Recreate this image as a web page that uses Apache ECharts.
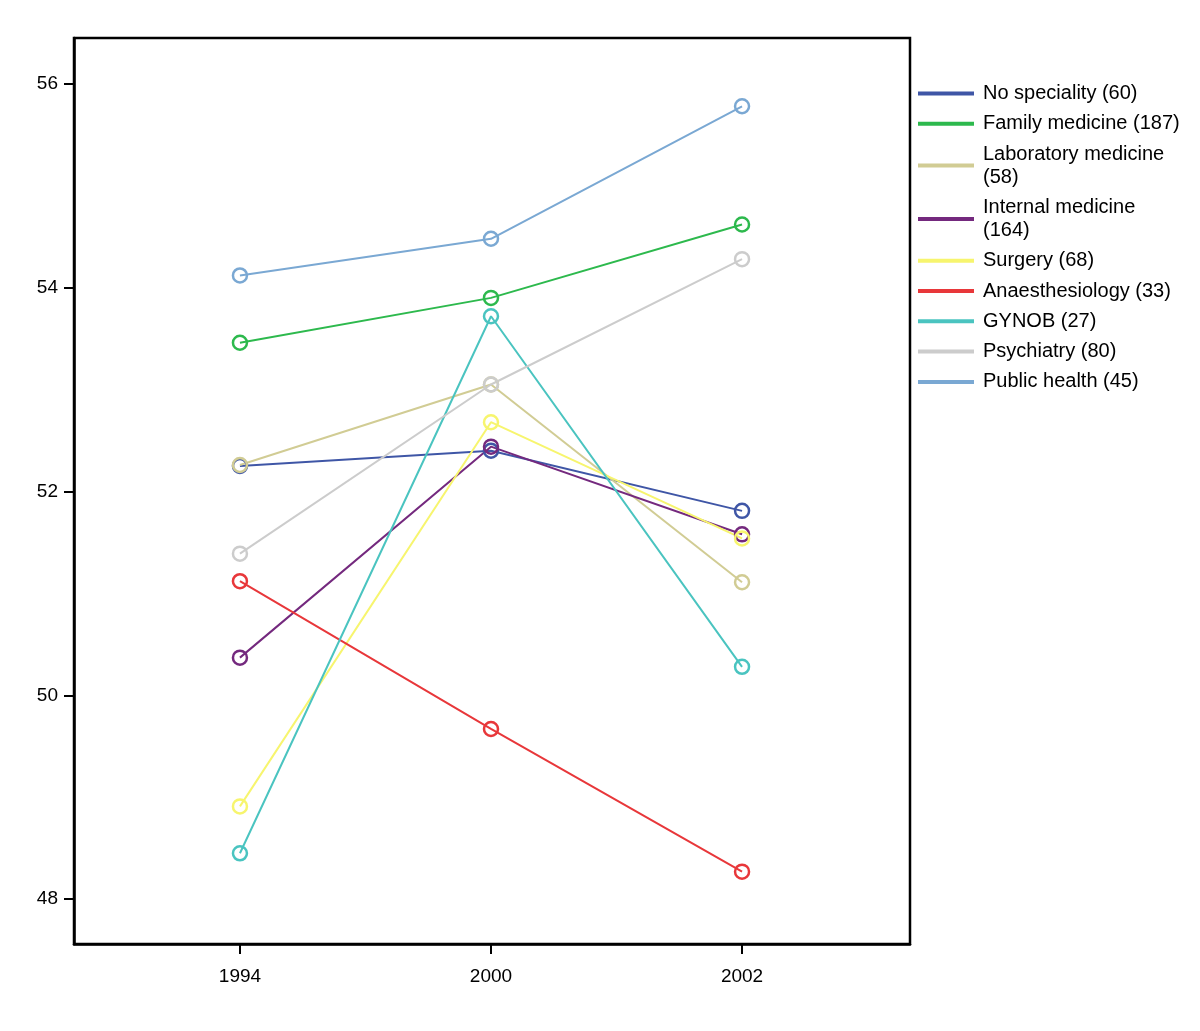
<!DOCTYPE html>
<html>
<head>
<meta charset="utf-8">
<script src="https://cdn.jsdelivr.net/npm/echarts@6/dist/echarts.min.js"></script>
<style>html,body{margin:0;padding:0;background:#fff;}#c{width:1200px;height:1031px;}</style>
</head>
<body>
<div id="c"></div>
<script>
const years = ['1994', '2000', '2002'];
const seriesNames = ['No speciality (60)', 'Family medicine (187)', 'Laboratory medicine (58)', 'Internal medicine (164)', 'Surgery (68)', 'Anaesthesiology (33)', 'GYNOB (27)', 'Psychiatry (80)', 'Public health (45)'];
const legendLabels = ['No speciality (60)', 'Family medicine (187)', 'Laboratory medicine\n(58)', 'Internal medicine\n(164)', 'Surgery (68)', 'Anaesthesiology (33)', 'GYNOB (27)', 'Psychiatry (80)', 'Public health (45)'];
const colors = ['#3F56A6', '#2DB94D', '#D1CC94', '#74297E', '#F7F56E', '#E8373A', '#4AC4C0', '#CCCCCC', '#7AA8D3'];
const noSpeciality = [52.25, 52.40, 51.81];
const familyMedicine = [53.46, 53.90, 54.62];
const laboratoryMedicine = [52.26, 53.05, 51.11];
const internalMedicine = [50.37, 52.44, 51.58];
const surgery = [48.91, 52.68, 51.54];
const anaesthesiology = [51.12, 49.67, 48.27];
const gynob = [48.45, 53.72, 50.28];
const psychiatry = [51.39, 53.05, 54.28];
const publicHealth = [54.12, 54.48, 55.78];
const yTicks = [48, 50, 52, 54, 56];

const allValues = [noSpeciality, familyMedicine, laboratoryMedicine, internalMedicine, surgery, anaesthesiology, gynob, psychiatry, publicHealth];

const chart = echarts.init(document.getElementById('c'));
const labelMap = {};
seriesNames.forEach((n, i) => labelMap[n] = legendLabels[i]);

const series = seriesNames.map((name, i) => ({
  name: name,
  type: 'line',
  data: allValues[i].map((v, j) => [j, v]),
  symbol: 'circle',
  symbolSize: 14,
  showSymbol: true,
  lineStyle: { color: colors[i], width: 2 },
  itemStyle: { color: 'rgba(255,255,255,0)', borderColor: colors[i], borderWidth: 2.5 },
  emphasis: { disabled: true },
  animation: false
}));

chart.setOption({
  backgroundColor: '#fff',
  animation: false,
  grid: {
    left: 74, right: 290, top: 38, bottom: 87,
    show: true, borderColor: '#000', borderWidth: 2.5, backgroundColor: 'transparent'
  },
  legend: {
    orient: 'vertical',
    left: 918,
    top: 82,
    padding: 0,
    itemGap: 7.3,
    itemWidth: 54,
    itemHeight: 2,
    icon: 'rect',
    selectedMode: false,
    data: seriesNames.map((n, i) => ({ name: n, itemStyle: { color: colors[i] } })),
    formatter: n => labelMap[n],
    textStyle: { fontFamily: 'Liberation Sans', fontSize: 20, color: '#000', lineHeight: 23, padding: [0, 0, 0, 5] }
  },
  xAxis: {
    type: 'value',
    min: -0.661,
    max: 2.669,
    axisLine: { show: true, onZero: false, lineStyle: { color: '#000', width: 2.5 } },
    axisTick: { show: true, length: 10, lineStyle: { color: '#000', width: 2 }, customValues: [0, 1, 2] },
    axisLabel: { customValues: [0, 1, 2], formatter: v => years[Math.round(v)], fontFamily: 'Liberation Sans', fontSize: 19, color: '#000', margin: 23 },
    splitLine: { show: false }
  },
  yAxis: {
    type: 'value',
    min: 47.56,
    max: 56.45,
    axisLine: { show: true, onZero: false, lineStyle: { color: '#000', width: 2.5 } },
    axisTick: { show: true, length: 10, lineStyle: { color: '#000', width: 2 }, customValues: yTicks },
    axisLabel: { customValues: yTicks, fontFamily: 'Liberation Sans', fontSize: 19, color: '#000', margin: 16 },
    splitLine: { show: false }
  },
  series: series
});
</script>
</body>
</html>
